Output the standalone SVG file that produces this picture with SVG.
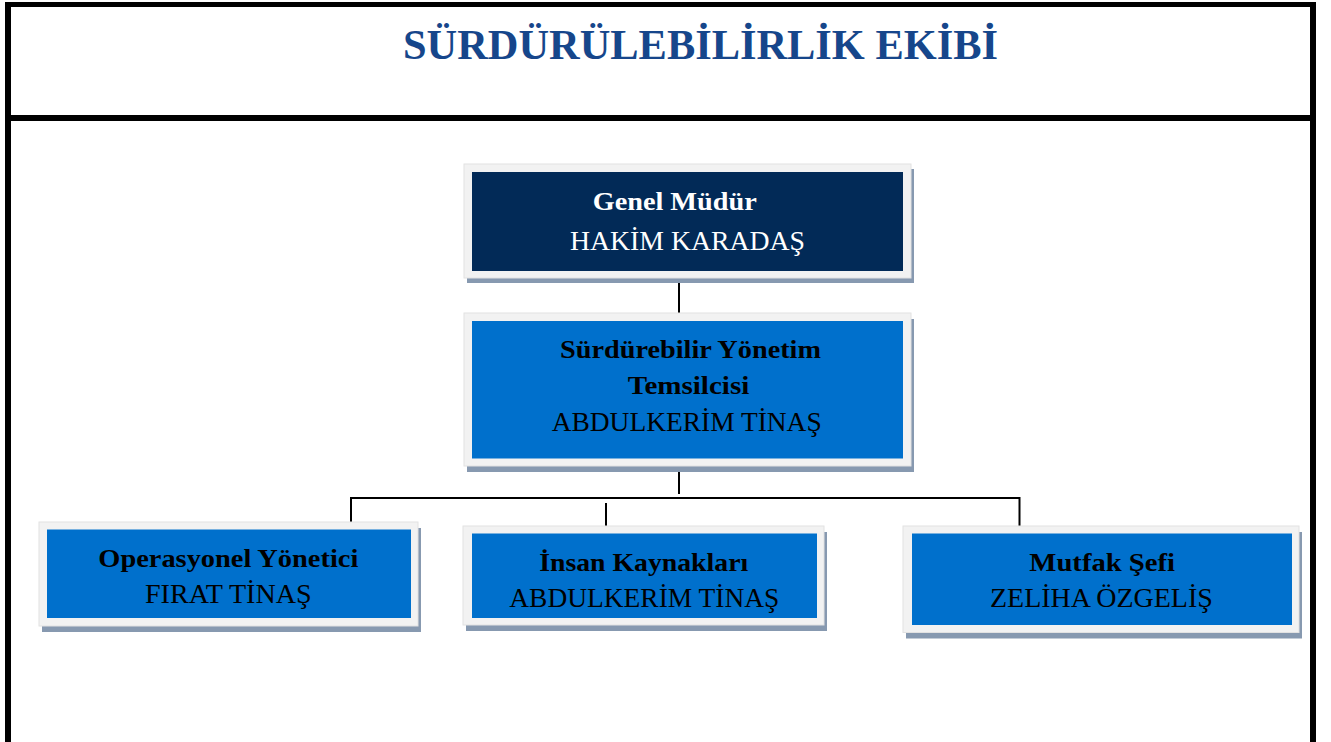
<svg xmlns="http://www.w3.org/2000/svg" width="1331" height="742" viewBox="0 0 1331 742">
<style>
.border{fill:#000}
.shadow{fill:#8799b0}
.frame{fill:#f2f2f2;stroke:#e2e2e2;stroke-width:1}
.navy{fill:#022a57}
.blue{fill:#0070cc}
.t{font-family:"Liberation Serif","Times New Roman",serif;text-anchor:middle}
.b{font-weight:bold;font-size:26px}
.n{font-size:27px}
.w{fill:#fff}
.k{fill:#000}
.title{font-family:"Liberation Serif","Times New Roman",serif;font-weight:bold;font-size:42px;fill:#16468b;text-anchor:middle}
.con{stroke:#000;stroke-width:2;fill:none}
</style>
<rect width="1331" height="742" fill="#fff"/>
<g id="page-border">
<rect class="border" x="5" y="2" width="1311" height="5"/>
<rect class="border" x="5" y="2" width="6" height="740"/>
<rect class="border" x="1310" y="2" width="6" height="740"/>
<rect class="border" x="5" y="115" width="1311" height="6"/>
</g>
<text class="title" x="700.5" y="59" textLength="595" lengthAdjust="spacingAndGlyphs">SÜRDÜRÜLEBİLİRLİK EKİBİ</text>
<g id="connectors">
<line class="con" x1="679" y1="278" x2="679" y2="313"/>
<line class="con" x1="679" y1="466" x2="679" y2="494"/>
<line class="con" x1="350" y1="498" x2="1020" y2="498"/>
<line class="con" x1="351" y1="497" x2="351" y2="522"/>
<line class="con" x1="606" y1="503" x2="606" y2="526"/>
<line class="con" x1="1019.5" y1="497" x2="1019.5" y2="526"/>
</g>
<g id="node-genel-mudur">
<rect class="shadow" x="467" y="169" width="447" height="114"/>
<rect class="frame" x="464" y="164" width="447" height="114"/>
<rect class="navy" x="472" y="172" width="431" height="99"/>
<text class="t b w" x="674.7" y="210" textLength="164" lengthAdjust="spacingAndGlyphs">Genel Müdür</text>
<text class="t n w" x="687.5" y="250" textLength="235" lengthAdjust="spacingAndGlyphs">HAKİM KARADAŞ</text>
</g>
<g id="node-temsilci">
<rect class="shadow" x="467" y="319" width="447" height="153"/>
<rect class="frame" x="464" y="313" width="447" height="153"/>
<rect class="blue" x="472" y="321" width="431" height="137.5"/>
<text class="t b k" x="690.5" y="358" textLength="261" lengthAdjust="spacingAndGlyphs">Sürdürebilir Yönetim</text>
<text class="t b k" x="688.5" y="394" textLength="121.6" lengthAdjust="spacingAndGlyphs">Temsilcisi</text>
<text class="t n k" x="686.7" y="431" textLength="270" lengthAdjust="spacingAndGlyphs">ABDULKERİM TİNAŞ</text>
</g>
<g id="node-operasyonel">
<rect class="shadow" x="42" y="528" width="379" height="104"/>
<rect class="frame" x="39" y="522" width="379" height="104"/>
<rect class="blue" x="47" y="529.5" width="364" height="88.5"/>
<text class="t b k" x="228.3" y="567" textLength="260" lengthAdjust="spacingAndGlyphs">Operasyonel Yönetici</text>
<text class="t n k" x="228.3" y="603" textLength="166.7" lengthAdjust="spacingAndGlyphs">FIRAT TİNAŞ</text>
</g>
<g id="node-insan-kaynaklari">
<rect class="shadow" x="466" y="532" width="361" height="99"/>
<rect class="frame" x="463" y="526" width="361" height="99"/>
<rect class="blue" x="472" y="533.5" width="345" height="84.5"/>
<text class="t b k" x="643.7" y="571" textLength="209" lengthAdjust="spacingAndGlyphs">İnsan Kaynakları</text>
<text class="t n k" x="644.3" y="607" textLength="270" lengthAdjust="spacingAndGlyphs">ABDULKERİM TİNAŞ</text>
</g>
<g id="node-mutfak-sefi">
<rect class="shadow" x="906" y="532" width="396" height="106.5"/>
<rect class="frame" x="903" y="526" width="396" height="106.5"/>
<rect class="blue" x="912" y="533.5" width="380" height="91.5"/>
<text class="t b k" x="1102.2" y="571" textLength="145.7" lengthAdjust="spacingAndGlyphs">Mutfak Şefi</text>
<text class="t n k" x="1101.4" y="607" textLength="222.7" lengthAdjust="spacingAndGlyphs">ZELİHA ÖZGELİŞ</text>
</g>
</svg>
